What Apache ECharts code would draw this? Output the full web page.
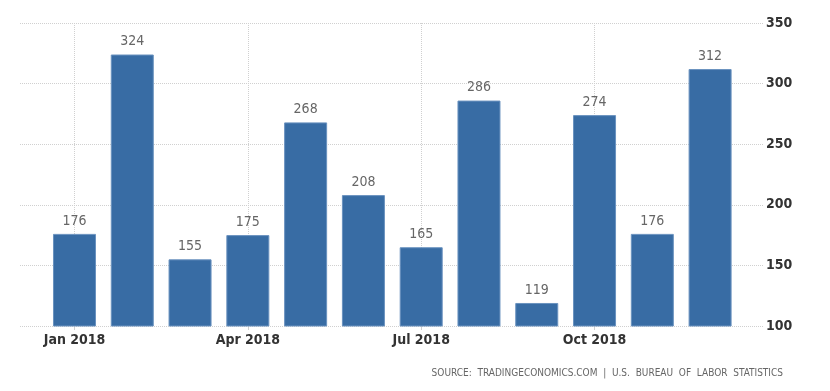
<!DOCTYPE html>
<html>
<head>
<meta charset="utf-8">
<script src="https://cdn.jsdelivr.net/npm/echarts@6/dist/echarts.min.js"></script>
<style>html,body{margin:0;padding:0;background:#fff}#c{width:830px;height:391px}</style>
</head>
<body>
<div id="c"></div>
<script>
var categories = ['Jan 2018','Feb 2018','Mar 2018','Apr 2018','May 2018','Jun 2018','Jul 2018','Aug 2018','Sep 2018','Oct 2018','Nov 2018','Dec 2018'];
var values = [176, 324, 155, 175, 268, 208, 165, 286, 119, 274, 176, 312];
var yTicks = [100, 150, 200, 250, 300, 350];
var labeledMonths = ['Jan 2018','Apr 2018','Jul 2018','Oct 2018'];
var sourceText = 'SOURCE:  TRADINGECONOMICS.COM  |  U.S.  BUREAU  OF  LABOR  STATISTICS';

var FONT = "'DejaVu Sans Condensed','Liberation Sans',sans-serif";
var chart = echarts.init(document.getElementById('c'), null, {renderer: 'canvas'});
var yMin = yTicks[0], yMax = yTicks[yTicks.length - 1], yStep = yTicks[1] - yTicks[0];

chart.setOption({
  animation: false,
  backgroundColor: '#ffffff',
  grid: [
    {left: 20, right: 67, top: 23, bottom: 65},
    {left: 45.6, right: 91, top: 23, bottom: 65}
  ],
  xAxis: [
    {gridIndex: 0, type: 'value', min: 0, max: 1, show: false},
    {gridIndex: 1, type: 'category', data: categories,
     axisLine: {show: false},
     axisTick: {show: true, alignWithLabel: true, length: 4,
       interval: function (i, v) { return labeledMonths.indexOf(v) >= 0; },
       lineStyle: {color: '#d0d0d0'}},
     axisLabel: {interval: function (i, v) { return labeledMonths.indexOf(v) >= 0; },
       color: '#333333', fontFamily: FONT, fontSize: 14, fontWeight: 'bold', margin: 7},
     splitLine: {show: false}}
  ],
  yAxis: [
    {gridIndex: 0, type: 'value', position: 'right', min: yMin, max: yMax, interval: yStep,
     axisLine: {show: false}, axisTick: {show: false},
     axisLabel: {color: '#333333', fontFamily: FONT, fontSize: 14, fontWeight: 'bold', margin: 3},
     splitLine: {show: true, lineStyle: {color: '#d0d0d0', type: [1, 1], width: 1}}},
    {gridIndex: 1, type: 'value', min: yMin, max: yMax, interval: yStep, show: false,
     splitLine: {show: false}}
  ],
  series: [{
    type: 'bar',
    xAxisIndex: 1, yAxisIndex: 1,
    data: values,
    barWidth: 43,
    z: 3,
    itemStyle: {color: '#386ca4', borderColor: '#6a92bf', borderWidth: 1},
    label: {show: true, position: 'top', distance: 6, color: '#666666',
      fontFamily: FONT, fontSize: 14},
    markLine: {
      silent: true, symbol: 'none', z: 1,
      label: {show: false},
      lineStyle: {color: '#d0d0d0', type: [1, 1], width: 1},
      data: labeledMonths.map(function (m) { return {xAxis: m}; })
    }
  }],
  graphic: [{
    type: 'text', right: 47, top: 368,
    style: {text: sourceText, fill: '#666666', font: '10px ' + FONT}
  }]
});
</script>
</body>
</html>
